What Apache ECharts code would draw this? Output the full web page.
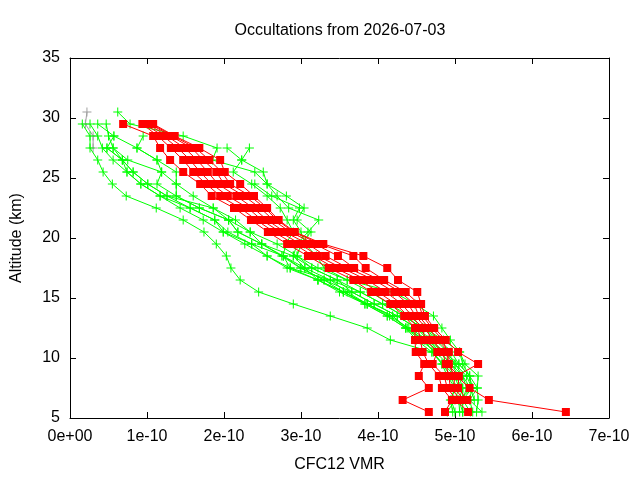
<!DOCTYPE html>
<html>
<head>
<meta charset="utf-8">
<script src="https://cdn.jsdelivr.net/npm/echarts@6/dist/echarts.min.js"></script>
<style>
  html, body { margin: 0; padding: 0; background: #fff; }
  #chart { width: 640px; height: 480px; }
</style>
</head>
<body>
<div id="chart"></div>
<script>
// values are CFC12 VMR in units of 1e-10, altitudes in km
var xTicks = [0, 1, 2, 3, 4, 5, 6, 7];

// red profiles, one value per level of redAlt
var redAlt = [29.5, 28.5, 27.5, 26.5, 25.5, 24.5, 23.5, 22.5, 21.5, 20.5, 19.5, 18.5, 17.5,
              16.5, 15.5, 14.5, 13.5, 12.5, 11.5, 10.5, 9.5, 8.5, 7.5, 6.5, 5.5];
var red1 = [0.69, 1.08, 1.17, 1.30, 1.47, 1.69, 1.84, 2.13, 2.35, 2.57, 2.82, 3.09, 3.36, 3.68, 3.91, 4.16, 4.34, 4.48, 4.48, 4.49, 4.60, 4.53, 4.66, 4.32, 4.66];
var red2 = [0.94, 1.14, 1.31, 1.47, 1.60, 1.77, 1.95, 2.21, 2.42, 2.65, 2.91, 3.16, 3.44, 3.77, 4.00, 4.23, 4.39, 4.52, 4.55, 4.58, 4.66, 4.79, 4.83, 4.96, 4.87];
var red3 = [0.97, 1.21, 1.40, 1.56, 1.69, 1.84, 2.05, 2.31, 2.49, 2.73, 2.99, 3.22, 3.53, 3.86, 4.10, 4.31, 4.44, 4.57, 4.62, 4.77, 4.71, 4.86, 4.90, 5.02, 5.17];
var red4 = [1.01, 1.26, 1.49, 1.65, 1.79, 1.92, 2.16, 2.38, 2.56, 2.79, 3.09, 3.32, 3.61, 3.95, 4.21, 4.39, 4.49, 4.62, 4.70, 4.84, 4.88, 4.92, 4.94, 5.08, null];
var red5 = [1.04, 1.31, 1.58, 1.73, 1.90, 2.00, 2.26, 2.47, 2.64, 2.86, 3.18, 3.48, 3.69, 4.03, 4.29, 4.47, 4.53, 4.66, 4.78, 4.92, 4.92, 4.99, 4.99, 5.12, null];
var red6 = [1.06, 1.34, 1.63, 1.81, 1.97, 2.08, 2.34, 2.53, 2.69, 2.90, 3.25, 3.68, 3.84, 4.08, 4.36, 4.53, 4.58, 4.70, 4.84, 4.90, 4.90, 5.05, 5.04, 5.16, null];
var red7 = [1.08, 1.36, 1.68, 1.95, 2.01, 2.21, 2.39, 2.56, 2.71, 2.92, 3.29, 3.81, 4.12, 4.26, 4.51, 4.56, 4.61, 4.73, 4.88, 5.04, 5.30, 5.02, 5.19, 5.44, 6.44];

// green profiles, one value per level of greenAlt (null = no point)
var greenAlt = [30.5, 29.5, 28.5, 27.5, 26.5, 25.5, 24.5, 23.5, 22.5, 21.5, 20.5, 19.5, 18.5,
                17.5, 16.5, 15.5, 14.5, 13.5, 12.5, 11.5, 10.5, 9.5, 8.5, 7.5, 6.5, 5.5];
var green1 = [null, 0.16, 0.26, 0.26, 0.36, 0.43, 0.55, 0.73, 1.12, 1.47, 1.74, 1.90, 2.03, 2.09, 2.21, 2.45, 2.90, 3.38, 3.86, 4.16, 4.70, 4.83, 4.95, 5.00, 4.94, 4.97];
var green2 = [null, 0.26, 0.36, 0.42, 0.56, 0.74, 0.92, 1.17, 1.43, 1.73, 1.99, 2.27, 2.56, 2.82, 3.22, 3.55, 3.83, 4.12, 4.36, 4.55, 4.75, 4.90, 5.00, 5.10, 5.05, 5.06];
var green3 = [null, 0.36, 0.57, 0.48, 0.68, 0.82, 1.01, 1.26, 1.56, 1.88, 2.05, 2.36, 2.77, 2.86, 3.38, 3.60, 3.86, 4.19, 4.38, 4.60, 4.80, 4.95, 5.10, 5.15, 5.10, 5.10];
var green4 = [null, 0.47, 0.50, 0.56, 0.75, 1.19, 1.13, 1.38, 1.68, 2.06, 2.18, 2.49, 2.75, 2.99, 3.30, 3.66, 3.95, 4.25, 4.50, 4.70, 4.85, 5.00, 5.15, 5.22, 5.19, 5.23];
var green5 = [null, null, 0.95, 0.87, 1.13, 1.38, 1.38, 1.60, 1.86, 2.15, 2.34, 2.69, 2.95, 3.14, 3.47, 3.77, 4.06, 4.33, 4.58, 4.80, 4.95, 5.05, 5.19, 5.29, 5.30, 5.28];
var green6 = [null, null, null, 0.48, 0.68, 0.74, 0.92, 1.17, 1.56, 1.88, 1.99, 2.36, 2.56, 2.86, 3.22, 3.55, 3.86, 4.19, 4.36, 4.50, 4.70, 4.85, 5.00, 5.05, 5.00, 4.90];
var green7 = [null, null, 0.57, 0.87, 1.13, 1.19, 1.38, 1.38, 1.68, 2.06, 2.18, 2.49, 2.77, 3.05, 3.38, 3.77, 4.06, 4.33, 4.58, 4.75, 4.90, 5.00, 5.10, 5.20, 5.25, null];
var green8 = [null, null, null, 0.56, 0.68, 0.82, 1.01, 1.26, 1.86, 2.06, 2.34, 2.49, 2.90, 3.14, 3.47, 3.66, 3.95, 4.25, 4.50, 4.65, 4.80, 4.95, 5.05, 5.10, 5.10, null];
var green9 = [0.62, 0.78, 1.47, 1.91, 1.85, 2.40, 2.56, 2.69, 2.84, 3.23, 3.09, 2.95, 2.90, 3.05, 3.22, 3.50, 3.83, 4.12, 4.36, 4.60, 4.72, 4.83, 4.90, 5.00, 4.95, 5.00];
var green10 = [null, null, null, 2.04, 2.23, 2.51, 2.56, 2.81, 3.04, 2.95, 3.13, 3.00, 2.95, 3.22, 3.60, 4.20, 4.48, 4.72, 4.83, 4.94, 5.06, 5.13, 5.30, 5.29, 5.19, 5.35];
var green11 = [null, null, null, 2.33, 2.23, 2.12, 2.36, 2.56, 2.73, 2.82, 2.90, 2.80, 2.77, 3.00, 3.30, 3.55, 3.86, 4.15, 4.40, 4.65, 4.85, 5.05, 5.19, 5.22, 5.10, 5.20];
var green12 = [null, null, null, null, null, null, 2.40, 2.62, 2.98, 2.90, 3.00, 3.05, 3.20, 3.30, 3.60, 3.90, 4.15, 4.40, 4.60, 4.85, 5.06, 5.10, 5.19, 5.22, 5.05, 5.10];
var grey1 = [0.22, 0.20, 0.30, 0.30, null, null, null, null, null, null, null, null, null, null, null, null, null, null, null, null, null, null, null, null, null, null];

var redProfiles = [red1, red2, red3, red4, red5, red6, red7];
var greenProfiles = [green1, green2, green3, green4, green5, green6, green7, green8, green9, green10, green11, green12];

var plusSymbol = 'path://M0,4H4V0H5V4H9V5H5V9H4V5H0Z';
var font = 'Liberation Sans';

function pairs(xs, alts) {
  var out = [];
  for (var i = 0; i < alts.length; i++) {
    if (xs[i] != null) out.push([xs[i], alts[i]]);
  }
  return out;
}

function profileSeries(xs, alts, color, symbol, size, z) {
  return {
    type: 'line',
    data: pairs(xs, alts),
    symbol: symbol,
    symbolSize: size,
    showAllSymbol: true,
    animation: false,
    z: z,
    lineStyle: { color: color, width: 1 },
    itemStyle: { color: color },
    emphasis: { disabled: true }
  };
}

var series = [profileSeries(grey1, greenAlt, '#a0a0a0', plusSymbol, 9, 2)];
greenProfiles.forEach(function (g) {
  series.push(profileSeries(g, greenAlt, '#00ff00', plusSymbol, 9, 3));
});
redProfiles.forEach(function (r) {
  series.push(profileSeries(r, redAlt, '#ff0000', 'rect', 8, 4));
});

var chart = echarts.init(document.getElementById('chart'));
chart.setOption({
  backgroundColor: '#ffffff',
  title: {
    text: 'Occultations from 2026-07-03',
    left: 335,
    top: 18,
    textAlign: 'center',
    textStyle: { fontFamily: font, fontSize: 16, fontWeight: 'normal', color: '#000' }
  },
  grid: { left: 70, right: 31, top: 58, bottom: 62 },
  xAxis: [{
    type: 'value',
    min: xTicks[0],
    max: xTicks[xTicks.length - 1],
    interval: 1,
    position: 'bottom',
    name: 'CFC12 VMR',
    nameLocation: 'middle',
    nameGap: 39,
    nameTextStyle: { fontFamily: font, fontSize: 16, color: '#000' },
    axisLine: { onZero: false, lineStyle: { color: '#000', width: 1 } },
    axisTick: { inside: true, length: 6, lineStyle: { color: '#000' } },
    axisLabel: {
      fontFamily: font, fontSize: 16, color: '#000', margin: 11,
      formatter: function (v) { return v === 0 ? '0e+00' : v + 'e-10'; }
    },
    splitLine: { show: false }
  }, {
    type: 'value',
    min: xTicks[0],
    max: xTicks[xTicks.length - 1],
    interval: 1,
    position: 'top',
    axisLine: { onZero: false, lineStyle: { color: '#000', width: 1 } },
    axisTick: { inside: true, length: 6, lineStyle: { color: '#000' } },
    axisLabel: { show: false },
    splitLine: { show: false }
  }],
  yAxis: [{
    type: 'value',
    min: 5,
    max: 35,
    interval: 5,
    position: 'left',
    name: 'Altitude (km)',
    nameLocation: 'middle',
    nameGap: 45,
    nameTextStyle: { fontFamily: font, fontSize: 16, color: '#000' },
    axisLine: { show: true, onZero: false, lineStyle: { color: '#000', width: 1 } },
    axisTick: { show: true, inside: true, length: 6, lineStyle: { color: '#000' } },
    axisLabel: { fontFamily: font, fontSize: 16, color: '#000', margin: 10 },
    splitLine: { show: false }
  }, {
    type: 'value',
    min: 5,
    max: 35,
    interval: 5,
    position: 'right',
    axisLine: { show: true, onZero: false, lineStyle: { color: '#000', width: 1 } },
    axisTick: { show: true, inside: true, length: 6, lineStyle: { color: '#000' } },
    axisLabel: { show: false },
    splitLine: { show: false }
  }],
  series: series
});
</script>
</body>
</html>
